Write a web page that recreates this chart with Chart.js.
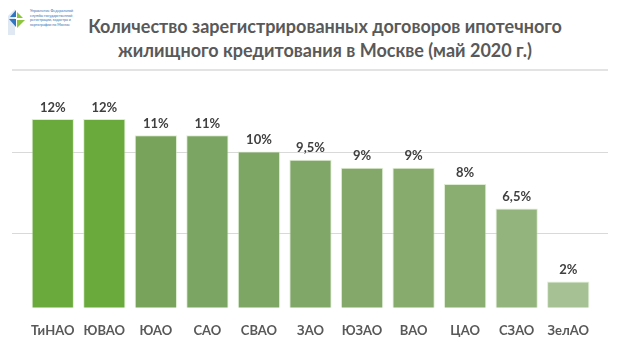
<!DOCTYPE html>
<html lang="ru">
<head>
<meta charset="utf-8">
<script src="https://cdn.jsdelivr.net/npm/chart.js@4/dist/chart.umd.min.js"></script>
<style>
  html, body { margin: 0; padding: 0; background: #fff; }
  #wrap { position: relative; width: 620px; height: 358px; overflow: hidden; font-family: Lato, 'Open Sans', sans-serif; }
  #title { position: absolute; left: 60px; top: 14px; width: 530px; text-align: center; color: #595959;
    font-size: 18px; font-weight: bold; line-height: 24px; }
  #sep { position: absolute; left: 12px; top: 69px; width: 596px; height: 2px; background: #e3e3e3; }
  #logo { position: absolute; left: 6px; top: 8px; width: 20px; height: 28px; }
  #logoText { position: absolute; left: 30px; top: 9px; width: 52px; font-size: 3.6px; line-height: 4.6px; color: #2f6fb3; }
  canvas { position: absolute; left: 0; top: 0; }
</style>
</head>
<body>
<div id="wrap">
  <svg id="logo" viewBox="0 0 20 28">
    <path d="M9 1 L2 8 L2 27 L9 27 Z" fill="#dfe8f3"/>
    <path d="M10 2 L4 9 L10 9 Z" fill="#2f75c0"/>
    <path d="M11 4 L17 10 L11 10 Z" fill="#8cc63f"/>
    <path d="M11 12 L19 12 L11 20 Z" fill="#8cc63f"/>
    <path d="M3 11 L10 11 L10 19 Z" fill="#2f75c0"/>
  </svg>
  <div id="logoText">Управление Федеральной службы государственной регистрации, кадастра и картографии по Москве</div>
  <div id="title">Количество зарегистрированных договоров ипотечного<br>жилищного кредитования в Москве (май 2020 г.)</div>
  <div id="sep"></div>
  <canvas id="chart" width="620" height="358"></canvas>
</div>
<script>
const districts = ['ТиНАО', 'ЮВАО', 'ЮАО', 'САО', 'СВАО', 'ЗАО', 'ЮЗАО', 'ВАО', 'ЦАО', 'СЗАО', 'ЗелАО'];
const shares = [12, 12, 11, 11, 10, 9.5, 9, 9, 8, 6.5, 2];
const barColors = ['#6aaa3c', '#6aaa3c', '#78a35a', '#7ba562', '#7da664', '#80a767', '#83a86a', '#86ab6d', '#8aad72', '#93b47c', '#a6c294'];
const gridValues = [5, 10];

function formatShare(v) {
  return String(v).replace('.', ',') + '%';
}

// horizontal guide lines, wider than the plot area like in the original
const guideLines = {
  id: 'guideLines',
  beforeDatasetsDraw(chart) {
    const { ctx } = chart;
    const y = chart.scales.y;
    ctx.save();
    ctx.strokeStyle = '#d9d9d9';
    ctx.lineWidth = 1;
    for (const v of gridValues) {
      const py = Math.round(y.getPixelForValue(v)) + 0.5;
      ctx.beginPath();
      ctx.moveTo(12, py);
      ctx.lineTo(608, py);
      ctx.stroke();
    }
    ctx.restore();
  }
};

const valueLabels = {
  id: 'valueLabels',
  afterDatasetsDraw(chart) {
    const { ctx } = chart;
    const meta = chart.getDatasetMeta(0);
    ctx.save();
    ctx.font = 'bold 13px Lato, sans-serif';
    ctx.fillStyle = '#404040';
    ctx.textAlign = 'center';
    ctx.textBaseline = 'bottom';
    meta.data.forEach((bar, i) => {
      ctx.fillText(formatShare(shares[i]), bar.x, bar.y - 5);
    });
    ctx.restore();
  }
};

new Chart(document.getElementById('chart'), {
  type: 'bar',
  data: {
    labels: districts,
    datasets: [{
      data: shares,
      backgroundColor: barColors,
      borderColor: 'rgba(200, 225, 180, 0.6)',
      borderWidth: 1,
      barPercentage: 0.82,
      categoryPercentage: 1
    }]
  },
  options: {
    responsive: false,
    animation: false,
    layout: { padding: { left: 27, right: 26, top: 85, bottom: 3 } },
    plugins: {
      legend: { display: false },
      tooltip: { enabled: false }
    },
    scales: {
      x: {
        grid: { display: false, drawTicks: false },
        border: { display: false },
        ticks: {
          padding: 16,
          color: '#595959',
          font: { family: 'Lato, sans-serif', size: 13, weight: 'bold' }
        }
      },
      y: {
        display: false,
        min: 0.4,
        max: 14.1
      }
    }
  },
  plugins: [guideLines, valueLabels]
});
</script>
</body>
</html>
